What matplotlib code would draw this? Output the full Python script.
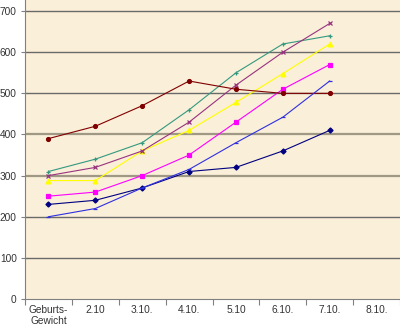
import matplotlib
matplotlib.use("Agg")
import matplotlib.pyplot as plt
import numpy as np

categories = ["Geburts-\nGewicht", "2.10", "3.10.", "4.10.", "5.10", "6.10.", "7.10.", "8.10."]

s_navy    = [230, 240, 270, 310, 320, 360, 410]
s_magenta = [250, 260, 300, 350, 430, 510, 570]
s_yellow  = [288, 288, 360, 410, 478, 548, 620]
s_teal    = [310, 340, 380, 460, 550, 620, 640]
s_purple  = [300, 320, 360, 430, 520, 600, 670]
s_darkred = [390, 420, 470, 530, 510, 500, 500]
s_blue    = [200, 220, 270, 315, 380, 442, 530]

yticks = [0, 100, 200, 300, 400, 500, 600, 700]

series = [
    (s_navy,    "#000080", "D", 2.6),
    (s_magenta, "#FF00FF", "s", 3.0),
    (s_yellow,  "#FFFF00", "^", 3.4),
    (s_teal,    "#339980", "+", 3.4),
    (s_purple,  "#993380", "x", 2.6),
    (s_darkred, "#800000", "o", 2.8),
    (s_blue,    "#3030E0", "_", 3.4),
]

plt.rcParams['font.family'] = ['Liberation Sans', 'DejaVu Sans']

fig = plt.figure(figsize=(4.0, 3.27), dpi=100)
ax = fig.add_axes([0.0625, 0.0856, 0.9375, 0.9144])
ax.set_facecolor("#FAEFD8")

x = np.arange(len(categories))
for vals, col, mk, ms in series:
    xs = x[:len(vals)]
    ax.plot(xs, vals, color=col, lw=0.8, marker=mk, markersize=ms,
            markeredgewidth=0.9, markerfacecolor=col, markeredgecolor=col, zorder=3)

ax.set_xlim(-0.5, len(categories) - 0.5)
ax.set_ylim(0, 727)

for yv in yticks[1:]:
    if yv in (300, 400):
        ax.axhline(yv, color="#9E9884", lw=1.6, zorder=1)
    else:
        ax.axhline(yv, color="#6A6A6A", lw=1.0, zorder=1)

ax.set_yticks(yticks)
ax.set_yticklabels([str(v) for v in yticks], fontsize=7.3, color="#333333")
ax.set_xticks(x)
ax.set_xticklabels(categories, fontsize=7.3, color="#333333", linespacing=1.15)
ax.tick_params(axis='x', length=0, pad=4)
ax.tick_params(axis='y', length=3, color="#808080", width=0.8, pad=3)
ax.set_xticks(np.arange(len(categories) + 1) - 0.5, minor=True)
ax.tick_params(axis='x', which='minor', length=4, color="#808080", width=0.8)

for sp in ["top", "right"]:
    ax.spines[sp].set_visible(False)
for sp in ["left", "bottom"]:
    ax.spines[sp].set_color("#808080")
    ax.spines[sp].set_linewidth(0.8)

fig.savefig("out.png", dpi=100, facecolor="white")
